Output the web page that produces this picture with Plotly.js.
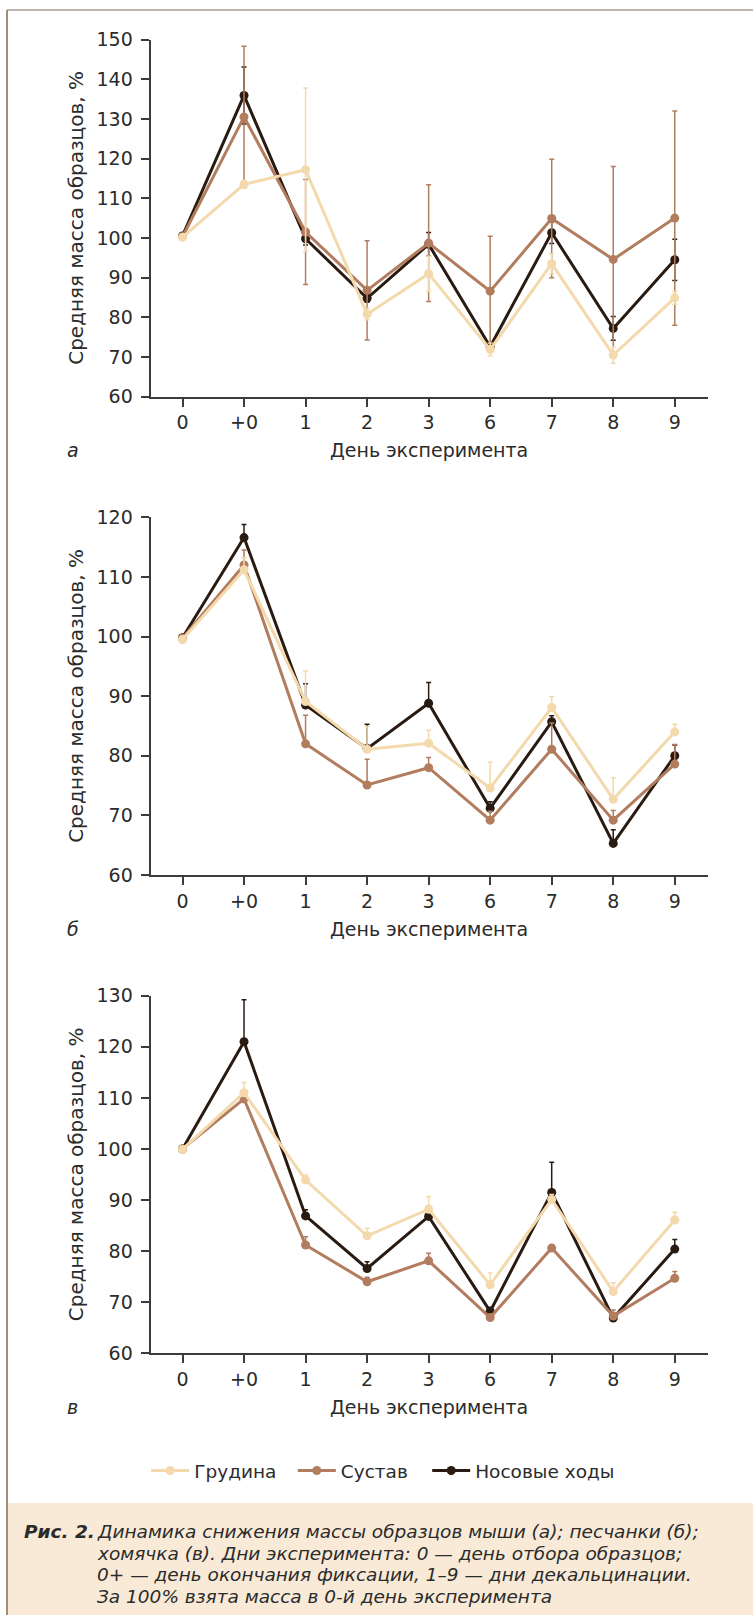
<!DOCTYPE html>
<html>
<head>
<meta charset="utf-8">
<script src="https://cdn.plot.ly/plotly-3.0.1.min.js"></script>
<style>html,body{margin:0;padding:0;background:#fff;}#chart{width:753px;height:1615px;}</style>
</head>
<body>
<div id="chart"></div>
<script>
// ---- data ----
const days = ['0', '+0', '1', '2', '3', '6', '7', '8', '9'];
const seriesNames = ['Грудина', 'Сустав', 'Носовые ходы'];

// panel а (mouse)
const aGrudina = [100.2, 113.5, 117.2, 80.8, 91.0, 71.9, 93.5, 70.5, 84.9];
const aGrudinaErr = [0.5, 1.0, 20.6, 1.4, 4.4, 1.6, 2.5, 2.1, 1.6];
const aSustav = [100.3, 130.5, 101.5, 86.8, 98.7, 86.6, 104.9, 94.6, 105.0];
const aSustavErr = [0.3, 17.8, 13.2, 12.5, 14.7, 13.8, 14.9, 23.4, 27.0];
const aNos = [100.5, 135.9, 99.8, 84.8, 98.4, 72.6, 101.3, 77.2, 94.5];
const aNosErr = [0.3, 7.2, 1.6, 1.0, 3.0, 1.0, 2.7, 3.0, 5.2];

// panel б (gerbil)
const bGrudina = [99.5, 111.2, 89.1, 81.1, 82.1, 74.6, 88.1, 72.7, 84.0];
const bGrudinaErr = [0.3, 2.0, 5.1, 3.8, 2.2, 4.3, 1.8, 3.6, 1.3];
const bSustav = [99.7, 112.0, 82.0, 75.1, 78.0, 69.2, 81.1, 69.2, 78.6];
const bSustavErr = [0.2, 2.5, 4.8, 4.3, 1.7, 1.5, 4.4, 1.6, 3.3];
const bNos = [99.8, 116.6, 88.5, 81.2, 88.8, 71.2, 85.7, 65.3, 80.0];
const bNosErr = [0.2, 2.2, 3.6, 4.1, 3.5, 1.1, 1.0, 2.3, 1.8];

// panel в (hamster)
const cGrudina = [99.9, 111.0, 93.9, 83.0, 88.2, 73.4, 90.1, 72.1, 86.1];
const cGrudinaErr = [0.2, 2.0, 1.0, 1.5, 2.5, 2.3, 1.0, 1.7, 1.5];
const cSustav = [100.0, 109.8, 81.2, 74.0, 78.1, 67.0, 80.6, 67.3, 74.7];
const cSustavErr = [0.2, 0.5, 1.6, 0.9, 1.5, 0.5, 0.5, 1.2, 1.3];
const cNos = [100.0, 121.0, 86.9, 76.6, 86.8, 68.2, 91.5, 66.9, 80.4];
const cNosErr = [0.2, 8.2, 1.2, 1.3, 2.0, 0.8, 5.9, 0.7, 1.9];

const yTicksA = [60, 70, 80, 90, 100, 110, 120, 130, 140, 150];
const yTicksB = [60, 70, 80, 90, 100, 110, 120];
const yTicksC = [60, 70, 80, 90, 100, 110, 120, 130];

const xTitle = 'День эксперимента';
const yTitle = 'Средняя масса образцов, %';
const panelLetters = ['а', 'б', 'в'];
const captionBold = 'Рис. 2.';
const captionLines = [
  'Динамика снижения массы образцов мыши (а); песчанки (б);',
  'хомячка (в). Дни эксперимента: 0 — день отбора образцов;',
  '0+ — день окончания фиксации, 1–9 — дни декальцинации.',
  'За 100% взята масса в 0-й день эксперимента'
];

// ---- styling ----
const W = 753, H = 1615;
const FONT = 'DejaVu Sans';
const TXT = '#2b2b2b';
const colors = ['#f3d9ac', '#b27c5f', '#2a1b12'];
const px = v => v / W;
const py = v => 1 - v / H;

const panels = [
  {top: 39.5, bottom: 396.7, range: [60, 150], ticks: yTicksA, data: [aGrudina, aSustav, aNos], err: [aGrudinaErr, aSustavErr, aNosErr], sym: true},
  {top: 517.3, bottom: 875.0, range: [60, 120], ticks: yTicksB, data: [bGrudina, bSustav, bNos], err: [bGrudinaErr, bSustavErr, bNosErr], sym: false},
  {top: 995.7, bottom: 1353.3, range: [60, 130], ticks: yTicksC, data: [cGrudina, cSustav, cNos], err: [cGrudinaErr, cSustavErr, cNosErr], sym: false}
];
const xL = 150.5, xR = 708;

const traces = [];
const layout = {
  width: W, height: H,
  margin: {l: 0, r: 0, t: 0, b: 0},
  paper_bgcolor: '#ffffff', plot_bgcolor: 'rgba(0,0,0,0)',
  font: {family: FONT, color: TXT},
  annotations: [], shapes: []
};

const drawOrder = [2, 1, 0];
const legendKeys = ['legend', 'legend2', 'legend3'];
const legendX = [146.2, 292.8, 427.2];

panels.forEach((p, i) => {
  const sfx = i === 0 ? '' : String(i + 1);
  const xa = 'x' + sfx, ya = 'y' + sfx;
  drawOrder.forEach(s => {
    const err = p.err[s];
    traces.push({
      type: 'scatter', mode: 'lines+markers',
      x: days, y: p.data[s], name: seriesNames[s],
      xaxis: xa, yaxis: ya,
      line: {color: colors[s], width: 3},
      marker: {color: colors[s], size: 9},
      error_y: p.sym
        ? {type: 'data', array: err, symmetric: true, color: colors[s], thickness: 1.5, width: 2.5}
        : {type: 'data', array: err, arrayminus: err.map(() => 0), symmetric: false, color: colors[s], thickness: 1.5, width: 2.5},
      showlegend: i === 0,
      legend: legendKeys[s],
      hoverinfo: 'x+y+name'
    });
  });
  layout['xaxis' + sfx] = {
    type: 'category', categoryorder: 'array', categoryarray: days,
    range: [-0.52, 8.54], domain: [px(xL), px(xR)], anchor: ya,
    showline: true, linecolor: '#3c3c3c', linewidth: 1.8,
    ticks: 'outside', ticklen: 8, tickwidth: 1.5, tickcolor: '#3c3c3c',
    showgrid: false, zeroline: false,
    tickfont: {family: FONT, size: 19, color: TXT}
  };
  layout['yaxis' + sfx] = {
    range: p.range, domain: [py(p.bottom), py(p.top)], anchor: xa,
    tickmode: 'array', tickvals: p.ticks, ticktext: p.ticks.map(String),
    showline: true, linecolor: '#3c3c3c', linewidth: 1.8,
    ticks: 'outside', ticklen: 8, tickwidth: 1.5, tickcolor: '#3c3c3c',
    ticklabelstandoff: 4,
    showgrid: false, zeroline: false,
    tickfont: {family: FONT, size: 19, color: TXT}
  };
  // axis titles & panel letter
  layout.annotations.push({
    xref: 'paper', yref: 'paper', x: px(75.7), y: py((p.top + p.bottom) / 2),
    text: yTitle, textangle: -90, showarrow: false,
    font: {family: FONT, size: 20, color: TXT}, xanchor: 'center', yanchor: 'middle'
  });
  layout.annotations.push({
    xref: 'paper', yref: 'paper', x: px((xL + xR) / 2), y: py(p.bottom + 53.5),
    text: xTitle, showarrow: false,
    font: {family: FONT, size: 19, color: TXT}, xanchor: 'center', yanchor: 'middle'
  });
  layout.annotations.push({
    xref: 'paper', yref: 'paper', x: px(65), y: py(p.bottom + 53.5),
    text: '<i>' + panelLetters[i] + '</i>', showarrow: false,
    font: {family: FONT, size: 19, color: TXT}, xanchor: 'left', yanchor: 'middle'
  });
});

// legends
legendKeys.forEach((k, j) => {
  layout[k] = {
    orientation: 'h', x: px(legendX[j]), y: py(1471), xanchor: 'left', yanchor: 'middle',
    bgcolor: 'rgba(0,0,0,0)', borderwidth: 0, itemwidth: 38,
    font: {family: FONT, size: 18.5, color: TXT}
  };
});

// frame and caption box
layout.shapes.push(
  {type: 'rect', xref: 'paper', yref: 'paper', x0: px(7), x1: 1, y0: 0, y1: py(1503), fillcolor: '#f8ead7', line: {width: 0}, layer: 'below'},
  {type: 'line', xref: 'paper', yref: 'paper', x0: px(7), x1: 1, y0: py(10), y1: py(10), line: {color: '#a89c8c', width: 1.5}},
  {type: 'line', xref: 'paper', yref: 'paper', x0: px(7), x1: px(7), y0: 0, y1: py(10), line: {color: '#a08f78', width: 2}}
);

// caption
layout.annotations.push({
  xref: 'paper', yref: 'paper', x: px(22), y: py(1531.5),
  text: '<b><i>' + captionBold + '</i></b>', showarrow: false,
  font: {family: FONT, size: 18.5, color: TXT}, xanchor: 'left', yanchor: 'middle'
});
const capY = [1531.5, 1553, 1574.5, 1596];
captionLines.forEach((t, k) => {
  layout.annotations.push({
    xref: 'paper', yref: 'paper', x: px(95), y: py(capY[k]),
    text: '<i>' + t + '</i>', showarrow: false,
    font: {family: FONT, size: 18.5, color: TXT}, xanchor: 'left', yanchor: 'middle'
  });
});

Plotly.newPlot('chart', traces, layout, {displayModeBar: false, responsive: false});
</script>
</body>
</html>
